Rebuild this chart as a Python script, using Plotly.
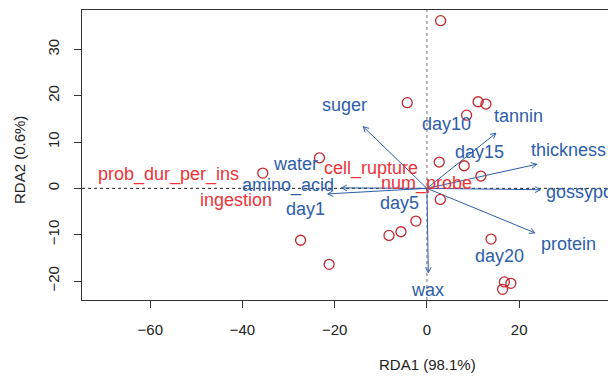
import numpy as np
import plotly.graph_objects as go

# --- site scores (red circles) ---
site_x = [2.97, -4.27, 11.1, 12.8, 8.6, 2.67, 8.08, 11.7, 2.9, -2.38,
          13.9, 16.8, 18.2, 16.4, -5.63, -8.23, -27.4, -21.2, -23.3, -35.6]
site_y = [36.2, 18.5, 18.7, 18.2, 15.8, 5.68, 4.88, 2.66, -2.38, -7.06,
          -10.95, -20.2, -20.5, -21.8, -9.37, -10.15, -11.2, -16.4, 6.6, 3.3]

# --- biplot arrows (blue) ---
arrow_names = ["suger", "tannin", "thickness", "gossypol", "protein", "wax", "amino_acid", "water"]
arrow_x = [-13.8, 14.95, 23.8, 24.6, 23.4, 0.3, -18.5, -21.5]
arrow_y = [13.3, 11.9, 5.2, -0.3, -9.6, -18.2, 0.1, -1.2]

# --- blue labels (arrow variables and factor centroids) ---
blue_labels = ["suger", "tannin", "thickness", "protein", "wax", "amino_acid", "water",
               "day1", "day5", "day10", "day15", "day20"]
blue_x = [-17.9, 19.9, 30.8, 30.6, 0.2, -30.1, -28.5, -26.4, -6.0, 4.3, 11.5, 15.7]
blue_y = [17.9, 15.6, 8.3, -12.0, -21.9, 0.7, 5.2, -4.5, -3.2, 14.0, 7.9, -14.6]
gossypol_label_x = [25.3]
gossypol_label_y = [-0.7]

# --- species labels (red text) ---
sp_names = ["prob_dur_per_ins", "ingestion", "cell_rupture", "num_probe"]
sp_x = [-56.1, -41.5, -12.2, -0.2]
sp_y = [2.9, -2.5, 4.3, 1.0]

x_ticks = [-60, -40, -20, 0, 20]
y_ticks = [-20, -10, 0, 10, 20, 30]

BLUE = "#2C5EAB"
RED_TXT = "#EE3338"
RED_PT = "#C4282E"
FONT = "Liberation Sans, Arial, sans-serif"

# page has an 8px body margin, so the figure is offset by (8, 8)
OFF = 8
W, H = 616 - OFF, 376 - OFF
ML, MR, MT, MB = 82 - OFF, 6, 10 - OFF, 76
XR = [-74.8, 39.7]
YR = [-24.1, 38.5]
pw, ph = W - ML - MR, H - MT - MB
sx = pw / (XR[1] - XR[0])
sy = ph / (YR[1] - YR[0])

fig = go.Figure()

# reference dotted lines
fig.add_shape(type="line", xref="paper", yref="y", x0=0, x1=1, y0=0, y1=0,
              line=dict(color="#222222", width=1, dash="dot"), layer="below")
fig.add_shape(type="line", xref="x", yref="paper", x0=0, x1=0, y0=0, y1=1,
              line=dict(color="#888888", width=1.2, dash="dot"), layer="below")

# arrows: shafts and V heads
lx, ly = [], []
head_len = 6.0
ang = np.deg2rad(28)
for ax_, ay_ in zip(arrow_x, arrow_y):
    lx += [0, ax_, None]
    ly += [0, ay_, None]
    dx, dy = ax_ * sx, ay_ * sy
    L = np.hypot(dx, dy)
    ux, uy = dx / L, dy / L
    for s in (ang, -ang):
        c, si = np.cos(s), np.sin(s)
        bx = -(ux * c - uy * si) * head_len
        by = -(ux * si + uy * c) * head_len
        lx += [ax_, ax_ + bx / sx, None]
        ly += [ay_, ay_ + by / sy, None]
fig.add_trace(go.Scatter(x=lx, y=ly, mode="lines", line=dict(color=BLUE, width=1),
                         hoverinfo="skip", showlegend=False))

# sites
fig.add_trace(go.Scatter(x=site_x, y=site_y, mode="markers",
                         marker=dict(symbol="circle-open", size=10, color=RED_PT,
                                     line=dict(width=1.3, color=RED_PT)),
                         showlegend=False))

annotations = []
for t, x, y in zip(blue_labels, blue_x, blue_y):
    annotations.append(dict(x=x, y=y, text=t, showarrow=False, xref="x", yref="y",
                            font=dict(family=FONT, size=18, color=BLUE),
                            xanchor="center", yanchor="middle"))
annotations.append(dict(x=gossypol_label_x[0], y=gossypol_label_y[0], text="gossypol",
                        showarrow=False, xref="x", yref="y",
                        font=dict(family=FONT, size=18, color=BLUE),
                        xanchor="left", yanchor="middle"))
for t, x, y in zip(sp_names, sp_x, sp_y):
    annotations.append(dict(x=x, y=y, text=t, showarrow=False, xref="x", yref="y",
                            font=dict(family=FONT, size=18, color=RED_TXT),
                            xanchor="center", yanchor="middle"))
# axis titles (page pixel positions converted to paper coords)
annotations.append(dict(x=(427 - 82) / pw, y=(300 - 364) / ph, xref="paper", yref="paper",
                        text="RDA1 (98.1%)", showarrow=False,
                        font=dict(family=FONT, size=15, color="#222222"),
                        xanchor="center", yanchor="middle"))
annotations.append(dict(x=(20 - 82) / pw, y=(300 - 160) / ph, xref="paper", yref="paper",
                        text="RDA2 (0.6%)", showarrow=False, textangle=-90,
                        font=dict(family=FONT, size=15, color="#222222"),
                        xanchor="center", yanchor="middle"))

fig.update_layout(
    width=W, height=H,
    margin=dict(l=ML, r=MR, t=MT, b=MB, autoexpand=False),
    paper_bgcolor="white", plot_bgcolor="white",
    font=dict(family=FONT, size=15, color="#222222"),
    annotations=annotations,
    showlegend=False,
)
fig.update_xaxes(range=XR, tickvals=x_ticks, showgrid=False, zeroline=False,
                 showline=True, mirror=True, linecolor="#333333", linewidth=1,
                 ticks="outside", ticklen=7, tickcolor="#333333", ticklabelstandoff=9,
                 tickfont=dict(family=FONT, size=15, color="#222222"))
fig.update_yaxes(range=YR, tickvals=y_ticks, showgrid=False, zeroline=False,
                 showline=True, mirror=True, linecolor="#333333", linewidth=1,
                 ticks="outside", ticklen=7, tickcolor="#333333", tickangle=-90,
                 ticklabelstandoff=9,
                 tickfont=dict(family=FONT, size=15, color="#222222"))

fig.write_html("out.html")
